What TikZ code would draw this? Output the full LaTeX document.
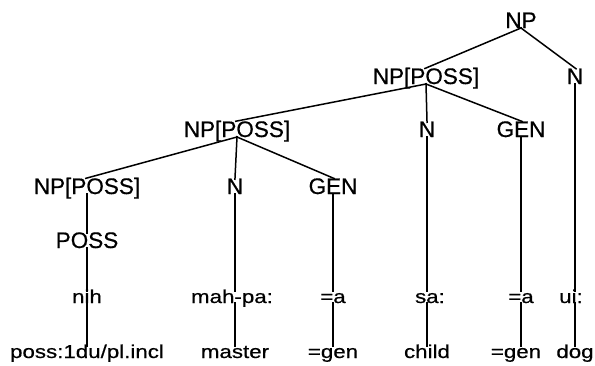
\documentclass[tikz,border=0pt]{standalone}
\usepackage{graphicx}
\usepackage{fontspec}
\setmainfont{Liberation Sans}[FakeBold=0.5]
\newcommand\widen[1]{\scalebox{1.2}[1]{#1}}
\begin{document}
\begin{tikzpicture}[x=1pt,y=-1pt,
  cat/.style={inner sep=0pt, outer sep=0pt, font=\fontsize{22.5}{24}\selectfont,
    text height=16pt, text depth=0pt, anchor=south},
  word/.style={inner sep=0pt, outer sep=0pt, font=\fontsize{18.6}{20}\selectfont,
    text height=13.5pt, text depth=0pt, anchor=south},
  branch/.style={line width=1.5pt, shorten <=-1pt, shorten >=-2pt}]
\useasboundingbox (0,0) rectangle (595,365);

% category labels
\node[cat] (np)   at (521,28)  {NP};
\node[cat] (npA)  at (426,84)  {NP[POSS]};
\node[cat] (nA)   at (575,84)  {N};
\node[cat] (npB)  at (237,137) {NP[POSS]};
\node[cat] (nB)   at (427,137) {N};
\node[cat] (genB) at (521,137) {GEN};
\node[cat] (npC)  at (87,194)  {NP[POSS]};
\node[cat] (nC)   at (235,194) {N};
\node[cat] (genC) at (333,194) {GEN};
\node[cat] (poss) at (87,248)  {POSS};

% forms
\node[word] (w1) at (87,303)  {\widen{nih}};
\node[word] (w2) at (232,303) {\widen{mah-pa:}};
\node[word] (w3) at (333,303) {\widen{=a}};
\node[word] (w4) at (430,303) {\widen{sa:}};
\node[word] (w5) at (521,303) {\widen{=a}};
\node[word] (w6) at (571,303) {\widen{ui:}};

% glosses
\node[word] (g1) at (87,358)  {\widen{poss:1du/pl.incl}};
\node[word] (g2) at (235,358) {\widen{master}};
\node[word] (g3) at (333,358) {\widen{=gen}};
\node[word] (g4) at (427,358) {\widen{child}};
\node[word] (g5) at (516,358) {\widen{=gen}};
\node[word] (g6) at (575,358) {\widen{dog}};

% branches between categories
\draw[branch] (np.south) -- (npA.north);
\draw[branch] (np.south) -- (nA.north);
\draw[branch] (npA.south) -- (npB.north);
\draw[branch] (npA.south) -- (nB.north);
\draw[branch] (npA.south) -- (genB.north);
\draw[branch] (npB.south) -- (npC.north);
\draw[branch] (npB.south) -- (nC.north);
\draw[branch] (npB.south) -- (genC.north);

% vertical lines down to forms and glosses
\draw[branch] (npC.south) -- (npC.south |- poss.north);
\draw[branch] (poss.south) -- (poss.south |- w1.north);
\draw[branch] (w1.south) -- (w1.south |- g1.north);
\draw[branch] (nC.south) -- (nC.south |- w2.north);
\draw[branch] (nC.south |- w2.south) -- (nC.south |- g2.north);
\draw[branch] (genC.south) -- (genC.south |- w3.north);
\draw[branch] (w3.south) -- (w3.south |- g3.north);
\draw[branch] (nB.south) -- (nB.south |- w4.north);
\draw[branch] (nB.south |- w4.south) -- (nB.south |- g4.north);
\draw[branch] (genB.south) -- (genB.south |- w5.north);
\draw[branch] (genB.south |- w5.south) -- (genB.south |- g5.north);
\draw[branch] (nA.south) -- (nA.south |- w6.north);
\draw[branch] (nA.south |- w6.south) -- (nA.south |- g6.north);
\end{tikzpicture}
\end{document}
